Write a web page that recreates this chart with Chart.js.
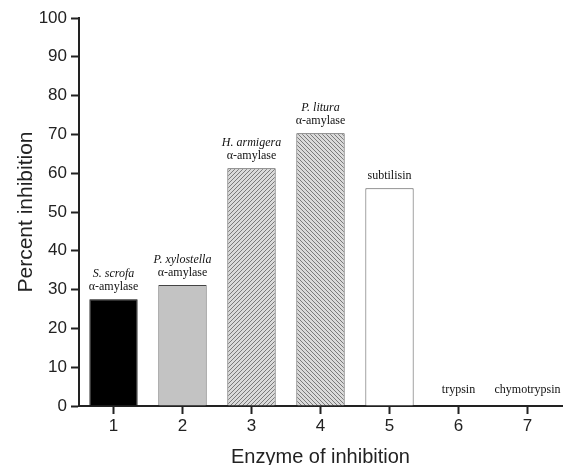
<!DOCTYPE html>
<html>
<head>
<meta charset="utf-8">
<title>Percent inhibition</title>
<script src="https://cdn.jsdelivr.net/npm/chart.js@4.4.0/dist/chart.umd.min.js"></script>
<style>
  html, body { margin: 0; padding: 0; background: #fff; }
</style>
</head>
<body>
<canvas id="enzymeChart" width="564" height="465"></canvas>
<script>
// data
const categories = ["1", "2", "3", "4", "5", "6", "7"];
const inhibition = [27.5, 31.2, 61.3, 70.3, 56.1, 0, 0];
const speciesNames = ["S. scrofa", "P. xylostella", "H. armigera", "P. litura", "", "", ""];
const enzymeNames = ["α-amylase", "α-amylase", "α-amylase", "α-amylase", "subtilisin", "trypsin", "chymotrypsin"];
const yTickValues = [0, 10, 20, 30, 40, 50, 60, 70, 80, 90, 100];

const SANS = "'Liberation Sans', Arial, sans-serif";
const SERIF = "'Liberation Serif', 'Times New Roman', serif";
const AXIS = "#222";

const canvas = document.getElementById("enzymeChart");
const ctx = canvas.getContext("2d");

// diagonal hatch, "up" = /// , "down" = \\\
function makeHatch(dir) {
  const tile = document.createElement("canvas");
  tile.width = 4;
  tile.height = 4;
  const g = tile.getContext("2d");
  g.fillStyle = "#dadada";
  g.fillRect(0, 0, 4, 4);
  g.strokeStyle = "#7a7a7a";
  g.lineWidth = 1;
  g.beginPath();
  if (dir === "up") {
    g.moveTo(-1, 5); g.lineTo(5, -1);
    g.moveTo(-3, 3); g.lineTo(3, -3);
    g.moveTo(1, 7); g.lineTo(7, 1);
  } else {
    g.moveTo(-1, -1); g.lineTo(5, 5);
    g.moveTo(-3, 1); g.lineTo(3, 7);
    g.moveTo(1, -3); g.lineTo(7, 3);
  }
  g.stroke();
  return ctx.createPattern(tile, "repeat");
}

// text above every bar
const barLabels = {
  id: "barLabels",
  afterDatasetsDraw(chart) {
    const c = chart.ctx;
    const meta = chart.getDatasetMeta(0);
    c.save();
    c.textAlign = "center";
    c.textBaseline = "alphabetic";
    c.fillStyle = "#111";
    meta.data.forEach((bar, i) => {
      const gap = inhibition[i] === 0 ? 13 : 9;
      const y = bar.y - gap;
      c.font = "12px " + SERIF;
      c.fillText(enzymeNames[i], bar.x, y);
      if (speciesNames[i]) {
        c.font = "italic 12px " + SERIF;
        c.fillText(speciesNames[i], bar.x, y - 13);
      }
    });
    c.restore();
  },
};

new Chart(ctx, {
  type: "bar",
  data: {
    labels: categories,
    datasets: [
      {
        data: inhibition,
        backgroundColor: ["#000", "#c3c3c3", makeHatch("up"), makeHatch("down"), "#fff", "#fff", "#fff"],
        borderColor: ["#000", "#444", "#444", "#444", "#555", "#555", "#555"],
        borderWidth: 1,
        barPercentage: 0.7,
        categoryPercentage: 1.0,
      },
    ],
  },
  options: {
    responsive: false,
    animation: false,
    layout: { padding: { top: 18, right: 2, left: 0, bottom: 0 } },
    plugins: {
      legend: { display: false },
      tooltip: { enabled: false },
    },
    scales: {
      x: {
        grid: {
          display: true,
          drawOnChartArea: false,
          drawTicks: true,
          offset: false,
          tickLength: 8,
          tickWidth: 2,
          tickColor: AXIS,
        },
        border: { display: true, color: AXIS, width: 2 },
        ticks: { color: AXIS, font: { family: SANS, size: 17 }, padding: 2 },
        title: {
          display: true,
          text: "Enzyme of inhibition",
          color: AXIS,
          font: { family: SANS, size: 20 },
          padding: { top: 0, bottom: -4 },
        },
        afterFit(scale) {
          scale.height = 59;
        },
      },
      y: {
        min: 0,
        max: 100,
        afterBuildTicks(scale) {
          scale.ticks = yTickValues.map((v) => ({ value: v }));
        },
        grid: {
          display: true,
          drawOnChartArea: false,
          drawTicks: true,
          tickLength: 8,
          tickWidth: 2,
          tickColor: AXIS,
        },
        border: { display: true, color: AXIS, width: 2 },
        ticks: { color: AXIS, font: { family: SANS, size: 17 }, padding: 4 },
        title: {
          display: true,
          text: "Percent inhibition",
          color: AXIS,
          font: { family: SANS, size: 21 },
          padding: { top: 14, bottom: 0 },
        },
        afterFit(scale) {
          scale.width = 79;
        },
      },
    },
  },
  plugins: [barLabels],
});
</script>
</body>
</html>
